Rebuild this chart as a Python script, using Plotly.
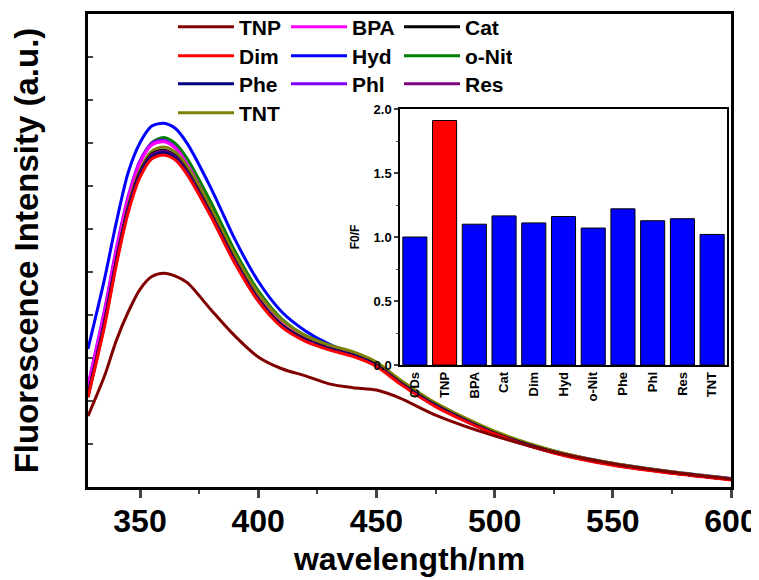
import plotly.graph_objects as go

wavelength = [328, 335, 340, 345, 350, 355, 360, 365, 370, 380, 390, 400, 410,
              420, 430, 440, 450, 460, 475, 500, 525, 550, 575, 600]

TNP = [15, 23.5, 31, 37, 41.8, 44.5, 45.2, 44.6, 43.2, 37.5, 32, 27.5, 25, 23.5,
       21.8, 21, 20.5, 18.8, 15.2, 10.8, 7.4, 4.9, 3.1, 1.7]
BPA = [21.3, 37, 50, 61, 68.5, 72.3, 73.0, 71.6, 68.2, 58.8, 48.5, 40, 34.5,
       31.3, 29.4, 28, 25.9, 22.2, 17.3, 11.4, 7.4, 4.8, 3.0, 1.6]
Cat = [19.5, 35, 48, 59, 66.5, 70.4, 71.2, 70, 66.8, 57.8, 48, 39.8, 34.2,
       31.2, 29.3, 27.9, 25.8, 22.1, 17.3, 11.4, 7.4, 4.8, 3.0, 1.6]
Dim = [19.0, 34, 47, 58, 65.5, 69.4, 70.2, 69.1, 66, 57.2, 47.4, 39.3, 33.8,
       30.8, 29, 27.6, 25.5, 21.8, 17, 11.2, 7.2, 4.6, 2.9, 1.5]
Hyd = [29.2, 44, 56, 66.5, 72.8, 76.3, 76.9, 75.8, 72.6, 63.2, 52.5, 43.5, 37,
       33, 30.2, 28.2, 25.8, 22.2, 17.5, 11.6, 7.6, 5.0, 3.2, 1.8]
oNit = [20, 36, 49, 60.5, 68.5, 72.8, 73.9, 72.6, 69.4, 60.2, 50, 41.5, 35.5,
        32, 30, 28.5, 26.3, 22.5, 17.6, 11.6, 7.5, 4.9, 3.1, 1.7]
Phe = [19.2, 34.5, 47.5, 58.5, 66, 69.9, 70.7, 69.5, 66.3, 57.4, 47.6, 39.5,
       34, 31, 29.2, 27.8, 25.7, 22, 17.2, 11.3, 7.3, 4.7, 3.0, 1.6]
Phl = [21.5, 37.5, 50.5, 61.5, 69, 72.7, 73.3, 71.8, 68.2, 58.5, 48, 39.5, 34,
       31, 29.2, 27.8, 25.7, 22, 17.2, 11.3, 7.3, 4.8, 3.0, 1.6]
Res = [19.5, 35, 47.8, 58.8, 66.2, 70.2, 71.0, 69.8, 66.6, 57.6, 47.8, 39.6,
       34, 31, 29.2, 27.8, 25.7, 22, 17.2, 11.3, 7.3, 4.7, 3.0, 1.6]
TNT = [19.0, 35, 48, 59.5, 67, 71, 71.9, 70.8, 67.8, 59, 49.2, 41, 35.3, 32,
       30, 28.6, 26.4, 22.7, 17.8, 11.8, 7.7, 5.0, 3.2, 1.7]

series_names = ["TNP", "BPA", "Cat", "Dim", "Hyd", "o-Nit", "Phe", "Phl", "Res", "TNT"]
series_values = [TNP, BPA, Cat, Dim, Hyd, oNit, Phe, Phl, Res, TNT]
series_colors = ["#800000", "#FF00FF", "#000000", "#FF0000", "#0000FF",
                 "#008000", "#000080", "#8000FF", "#800080", "#808000"]
legend_rows = ["legend", "legend", "legend", "legend2", "legend2", "legend2",
               "legend3", "legend3", "legend3", "legend4"]

bar_categories = ["CDs", "TNP", "BPA", "Cat", "Dim", "Hyd", "o-Nit", "Phe", "Phl", "Res", "TNT"]
bar_values = [1.00, 1.91, 1.10, 1.165, 1.11, 1.16, 1.07, 1.22, 1.127, 1.143, 1.02]
bar_colors = ["#0000FF", "#FF0000"] + ["#0000FF"] * 9

FONT = "Liberation Sans, Arial, sans-serif"

fig = go.Figure()
draw_order = [4, 5, 7, 1, 9, 2, 8, 6, 3, 0]
for i in draw_order:
    fig.add_trace(go.Scatter(
        x=wavelength, y=series_values[i], mode="lines", name=series_names[i],
        line=dict(color=series_colors[i], width=3, shape="spline", smoothing=0.8),
        legend=legend_rows[i], legendrank=i,
        xaxis="x", yaxis="y"))

fig.add_trace(go.Bar(
    x=bar_categories, y=bar_values, marker=dict(color=bar_colors, line=dict(color="black", width=1)),
    xaxis="x2", yaxis="y2", showlegend=False))

# page offset caused by default body margin of the html page
OFF = 8
W, H = 759 - OFF, 580 - OFF
# plot area in page pixels: x 88..731, y 14..487
L, R, T, B = 88 - OFF, 759 - 731, 14 - OFF, 580 - 487
pw, ph = W - L - R, H - T - B

def px_x(p):
    return (p - 88) / pw

def px_y(p):
    return (487 - p) / ph

legend_common = dict(orientation="h", xanchor="left", yanchor="middle",
                     bgcolor="rgba(0,0,0,0)", borderwidth=0,
                     font=dict(family=FONT, size=21, color="black", weight="bold"),
                     itemwidth=56, entrywidth=42, traceorder="normal",
                     tracegroupgap=0)
row_y = [27, 56, 84, 113]
leg = {}
for k, nm in enumerate(["legend", "legend2", "legend3", "legend4"]):
    leg[nm] = dict(legend_common, x=px_x(173), y=px_y(row_y[k]))

fig.update_layout(
    width=W, height=H,
    margin=dict(l=L, r=R, t=T, b=B, autoexpand=False),
    paper_bgcolor="white", plot_bgcolor="white",
    font=dict(family=FONT, color="black"),
    bargap=0.19,
    **leg,
    xaxis=dict(range=[328, 600], dtick=50, tick0=350, ticks="outside", ticklen=8, tickwidth=2.5,
               minor=dict(dtick=25, tick0=325, ticks="outside", ticklen=4, tickwidth=2),
               showline=True, linewidth=3, linecolor="black", mirror=True, showgrid=False,
               zeroline=False, automargin=False, ticklabelstandoff=-4,
               tickfont=dict(family=FONT, size=32, color="black", weight="bold"),
               title=dict(text="wavelength/nm", standoff=10,
                          font=dict(family=FONT, size=32, color="black", weight="bold"))),
    yaxis=dict(range=[0, 100], dtick=100 / 11, tick0=0, ticks="inside", ticklen=5, tickwidth=2,
               showticklabels=False, showline=True, linewidth=3, linecolor="black",
               mirror=True, showgrid=False, zeroline=False, automargin=False,
               title=dict(text="Fluorescence Intensity (a.u.)", standoff=40,
                          font=dict(family=FONT, size=33, color="black", weight="bold"))),
    xaxis2=dict(domain=[px_x(400), px_x(727)], anchor="y2", showline=True, linewidth=1.5,
                linecolor="black", mirror=True, ticks="", showgrid=False, tickangle=-90,
                automargin=False,
                tickfont=dict(family=FONT, size=13, color="black", weight="bold")),
    yaxis2=dict(domain=[px_y(365), px_y(109)], anchor="x2", range=[0, 2.0], dtick=0.5,
                tickformat=".1f", ticks="outside", ticklen=4, tickwidth=1.5,
                minor=dict(dtick=0.25, ticks="outside", ticklen=2, tickwidth=1),
                showline=True, linewidth=1.5, linecolor="black", mirror=True,
                showgrid=False, zeroline=False, automargin=False,
                tickfont=dict(family=FONT, size=13, color="black", weight="bold"),
                title=dict(text="F0/F", standoff=11,
                           font=dict(family=FONT, size=12, color="black", weight="bold"))),
)

fig.write_html("out.html")
